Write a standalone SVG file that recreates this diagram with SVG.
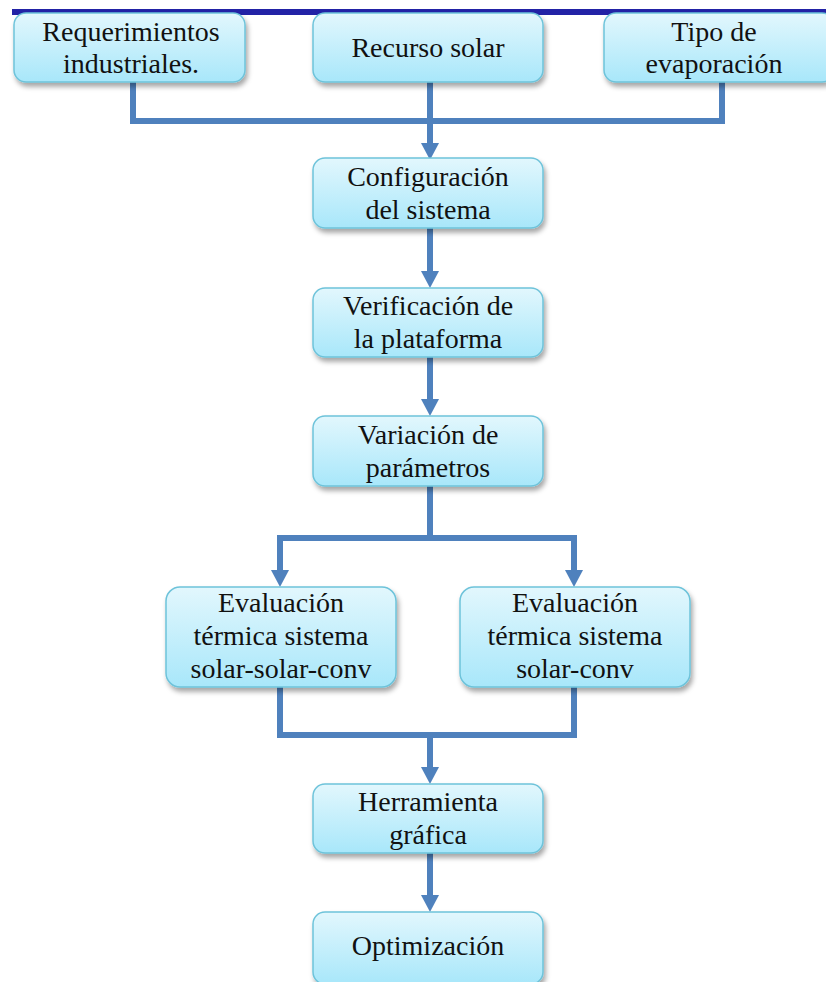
<svg xmlns="http://www.w3.org/2000/svg" width="826" height="982" viewBox="0 0 826 982">
<defs>
<linearGradient id="g" x1="0" y1="0" x2="0" y2="1">
<stop offset="0" stop-color="#e2f7fd"/>
<stop offset="1" stop-color="#a8e7fa"/>
</linearGradient>
<filter id="sh" x="-10%" y="-10%" width="130%" height="140%">
<feDropShadow dx="2" dy="4" stdDeviation="2.5" flood-color="#000" flood-opacity="0.35"/>
</filter>
<style>
.box{fill:url(#g);stroke:#6ec3da;stroke-width:1.5;filter:url(#sh)}
.t{font-family:"Liberation Serif","Times New Roman",serif;font-size:28px;fill:#111;text-anchor:middle}
.c{fill:none;stroke:#4f81bd;stroke-width:6;stroke-linejoin:miter}
</style>
</defs>
<rect width="826" height="982" fill="#fff"/>
<rect x="12" y="9" width="814" height="6" fill="#2222a6"/>
<g id="connectors">
<polyline class="c" points="133,82 133,121 722,121 722,82"/>
<path class="c" d="M430,82 L430,146"/>
<path class="c" d="M430,228 L430,274"/>
<path class="c" d="M430,357 L430,402"/>
<polyline class="c" points="430,486 430,538"/>
<polyline class="c" points="280,573 280,538 574,538 574,573"/>
<polyline class="c" points="280,687 280,735 574,735 574,687"/>
<path class="c" d="M430,735 L430,770"/>
<path class="c" d="M430,853 L430,898"/>
<g fill="#4f81bd">
<path d="M421,143 L439,143 L430,160 Z"/>
<path d="M421,271 L439,271 L430,288 Z"/>
<path d="M421,399 L439,399 L430,416 Z"/>
<path d="M271,570 L289,570 L280,587 Z"/>
<path d="M565,570 L583,570 L574,587 Z"/>
<path d="M421,767 L439,767 L430,784 Z"/>
<path d="M421,895 L439,895 L430,912 Z"/>
</g>
</g>
<g id="n1"><rect class="box" x="14" y="13" width="231" height="69" rx="12"/>
<text class="t" x="131" y="41">Requerimientos</text><text class="t" x="131" y="73">industriales.</text></g>
<g id="n2"><rect class="box" x="313" y="13" width="230" height="69" rx="12"/>
<text class="t" x="428" y="57">Recurso solar</text></g>
<g id="n3"><rect class="box" x="604" y="13" width="230" height="69" rx="12"/>
<text class="t" x="714" y="41">Tipo de</text><text class="t" x="714" y="73">evaporación</text></g>
<g id="n4"><rect class="box" x="313" y="158" width="230" height="70" rx="12"/>
<text class="t" x="428" y="186">Configuración</text><text class="t" x="428" y="219">del sistema</text></g>
<g id="n5"><rect class="box" x="313" y="288" width="230" height="69" rx="12"/>
<text class="t" x="428" y="315">Verificación de</text><text class="t" x="428" y="348">la plataforma</text></g>
<g id="n6"><rect class="box" x="313" y="416" width="230" height="70" rx="12"/>
<text class="t" x="428" y="444">Variación de</text><text class="t" x="428" y="477">parámetros</text></g>
<g id="n7"><rect class="box" x="166" y="587" width="230" height="100" rx="14"/>
<text class="t" x="281" y="612">Evaluación</text><text class="t" x="281" y="645">térmica sistema</text><text class="t" x="281" y="678">solar-solar-conv</text></g>
<g id="n8"><rect class="box" x="460" y="587" width="230" height="100" rx="14"/>
<text class="t" x="575" y="612">Evaluación</text><text class="t" x="575" y="645">térmica sistema</text><text class="t" x="575" y="678">solar-conv</text></g>
<g id="n9"><rect class="box" x="313" y="784" width="230" height="69" rx="12"/>
<text class="t" x="428" y="811">Herramienta</text><text class="t" x="428" y="844">gráfica</text></g>
<g id="n10"><rect class="box" x="313" y="912" width="230" height="72" rx="12"/>
<text class="t" x="428" y="955">Optimización</text></g>
</svg>
